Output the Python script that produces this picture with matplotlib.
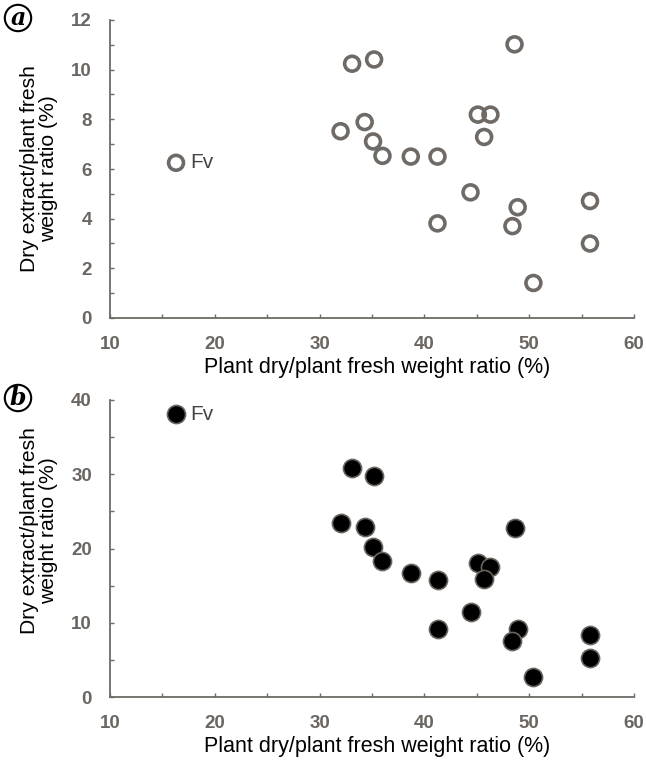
import matplotlib
matplotlib.use("Agg")
import matplotlib.pyplot as plt
from matplotlib.ticker import MultipleLocator

# data (same plants in both panels)
dry_fresh = [16.3, 32.0, 33.1, 35.2, 34.3, 35.1, 36.0, 38.7, 41.25, 41.25,
             44.4, 45.1, 46.3, 45.7, 48.6, 48.9, 48.4, 50.4, 55.8, 55.8]
extract_a = [6.25, 7.52, 10.24, 10.41, 7.89, 7.11, 6.53, 6.5, 6.5, 3.81,
             5.06, 8.19, 8.19, 7.29, 11.02, 4.46, 3.70, 1.41, 4.71, 3.0]
extract_b = [38.1, 23.5, 30.9, 29.7, 22.9, 20.2, 18.3, 16.7, 15.8, 9.2,
             11.4, 18.1, 17.5, 15.9, 22.7, 9.1, 7.6, 2.7, 8.4, 5.3]
fv_label = "Fv"

plt.rcParams['font.family'] = ['Liberation Sans', 'DejaVu Sans']

W, H = 646, 762
fig = plt.figure(figsize=(W / 100, H / 100), dpi=100)

def px_axes(left, right, top, bottom):
    return fig.add_axes([left / W, 1 - bottom / H, (right - left) / W, (bottom - top) / H])

ax_a = px_axes(110, 634, 20, 318)
ax_b = px_axes(110, 634, 400, 697)

axis_col = "#6e6a66"
tick_col = "#6b6661"

def style(ax, ymax, ystep, yminor, label_y):
    ax.set_xlim(10, 60)
    ax.set_ylim(0, ymax)
    for s in ["top", "right"]:
        ax.spines[s].set_visible(False)
    for s in ["left", "bottom"]:
        ax.spines[s].set_color(axis_col)
        ax.spines[s].set_linewidth(1.3)
    ax.xaxis.set_major_locator(MultipleLocator(10))
    ax.xaxis.set_minor_locator(MultipleLocator(5))
    ax.yaxis.set_major_locator(MultipleLocator(ystep))
    ax.yaxis.set_minor_locator(MultipleLocator(yminor))
    ax.tick_params(which="both", direction="in", length=3, width=1, color=axis_col)
    ax.tick_params(axis="x", pad=13)
    ax.tick_params(axis="y", pad=13)
    for lab in ax.get_xticklabels() + ax.get_yticklabels():
        lab.set_fontsize(13.5)
        lab.set_fontweight("bold")
        lab.set_color(tick_col)
    ax.set_xlabel("Plant dry/plant fresh weight ratio (%)", fontsize=15.5, labelpad=2)
    ax.xaxis.set_label_coords(0.51, -0.13)
    ax.text(-0.136, label_y, "Dry extract/plant fresh\nweight ratio (%)", transform=ax.transAxes,
            rotation=90, ha="center", va="center", multialignment="center",
            fontsize=15.2, linespacing=1.0)

style(ax_a, 12, 2, 1, 0.5)
style(ax_b, 40, 10, 5, 0.56)

ax_a.scatter(dry_fresh, extract_a, s=115, facecolors="none", edgecolors="#6f6a66",
             linewidths=2.6, zorder=3, clip_on=False)
ax_b.scatter(dry_fresh, extract_b, s=170, facecolors="black", edgecolors="#6a645e",
             linewidths=1.2, zorder=3, clip_on=False)

ax_a.text(dry_fresh[0] + 1.4, extract_a[0], fv_label, fontsize=15, color="#444",
          va="center")
ax_b.text(dry_fresh[0] + 1.4, extract_b[0], fv_label, fontsize=15, color="#444",
          va="center")

# panel letters in circles
for y_px, letter in [(18, "a"), (398, "b")]:
    fig.text(18 / W, 1 - y_px / H, letter, fontsize=17, fontweight="bold", fontstyle="italic",
             family="DejaVu Serif", ha="center", va="center",
             bbox=dict(boxstyle="circle,pad=0.05", fc="white", ec="black", lw=1.5))

fig.savefig("out.png", dpi=100)
